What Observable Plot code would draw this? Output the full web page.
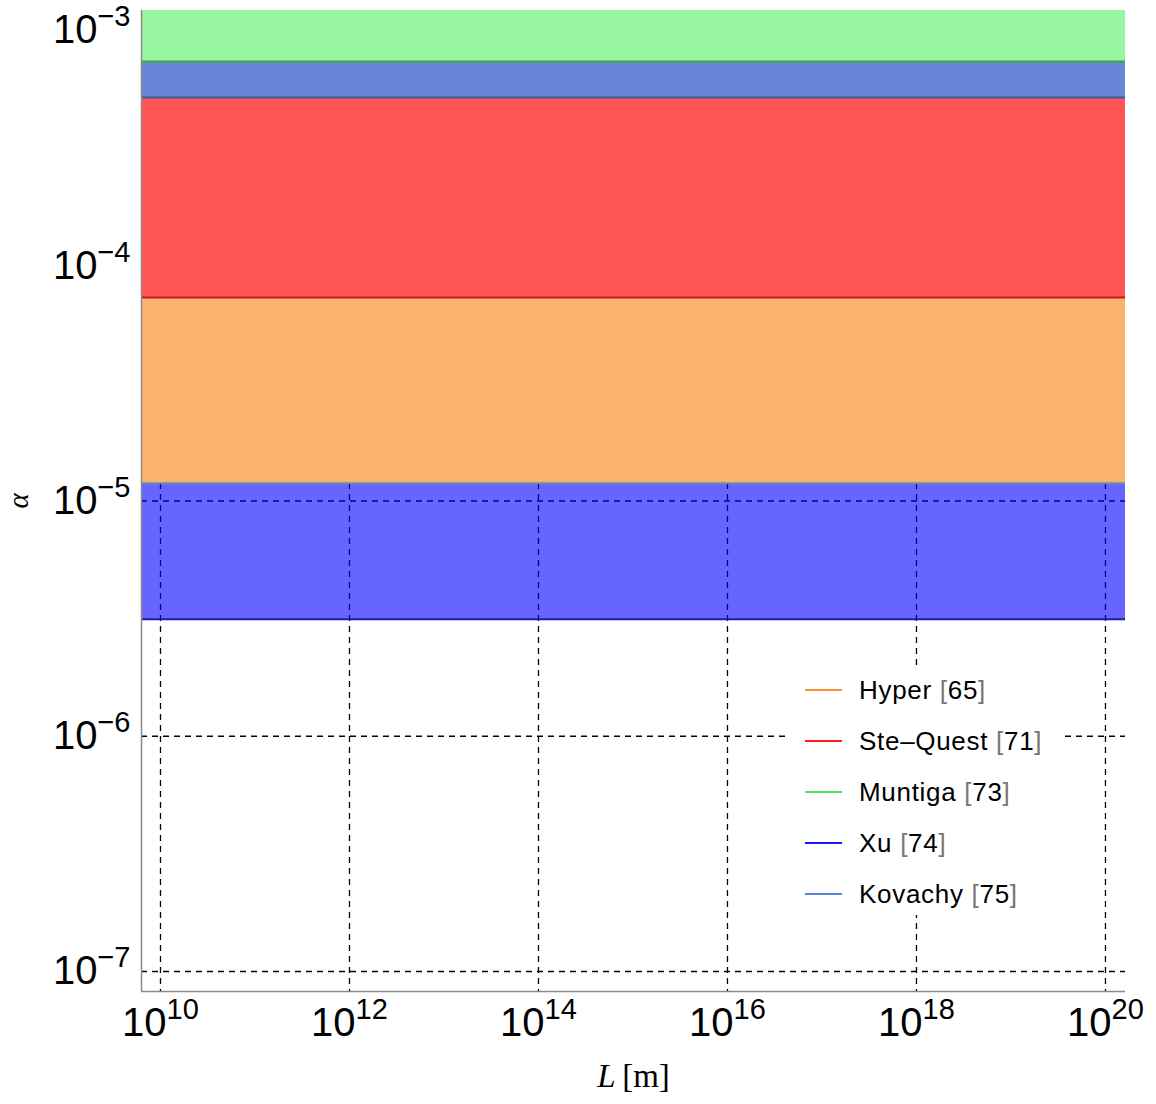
<!DOCTYPE html>
<html><head><meta charset="utf-8">
<script src="https://cdn.jsdelivr.net/npm/d3@7"></script>
<script src="https://cdn.jsdelivr.net/npm/@observablehq/plot@0.6"></script>
<style>
body{margin:0;background:#fff;}
#wrap{position:relative;width:1156px;height:1104px;font-family:"Liberation Sans",Arial,sans-serif;}
#legend{position:absolute;left:790px;top:668px;width:272px;height:247px;background:#fff;}
.row{position:absolute;left:15px;height:30px;display:flex;align-items:center;font-size:26px;letter-spacing:0.7px;color:#000;white-space:nowrap;}
.sw{width:37px;height:2px;margin-right:17px;}
.br{color:#777;}
g[aria-label="x-axis label"] text{font-family:"Liberation Serif","DejaVu Serif",serif;font-size:33px;}
g[aria-label="y-axis label"] text{font-family:"Liberation Serif","DejaVu Serif",serif;font-style:italic;font-size:29px;}
</style></head><body><div id="wrap"></div>
<script>
// ---- data ----
const bandNames = ["Xu [74]", "Hyper [65]", "Ste-Quest [71]", "Kovachy [75]", "Muntiga [73]"];
const bandLower = [3.14e-6, 1.19e-5, 7.33e-5, 5.19e-4, 7.38e-4];
const bandFill  = ["#0000ff", "#fbb36d", "#ff5555", "#6886d8", "#98f5a0"];
const bandFillOpacity = [0.6, 1, 1, 1, 1];
const bandEdge  = ["#1a1aa8", "#6e8c9c", "#c01c1c", "#3d5a9a", "#3fa84a"];
const legendNames  = ["Hyper", "Ste\u2013Quest", "Muntiga", "Xu", "Kovachy"];
const legendRefs   = ["65", "71", "73", "74", "75"];
const legendColors = ["#ff9030", "#ff2020", "#50e060", "#1a1aff", "#5b84d6"];
const xTicks = [1e10, 1e12, 1e14, 1e16, 1e18, 1e20];
const yTicks = [1e-7, 1e-6, 1e-5, 1e-4, 1e-3];
const xDomain = [Math.pow(10, 9.799), Math.pow(10, 20.212)];
const yDomain = [Math.pow(10, -7.085), Math.pow(10, -2.915)];

const bands = bandNames.map((name, i) => ({
  name,
  lo: bandLower[i],
  hi: i < bandNames.length - 1 ? bandLower[i + 1] : yDomain[1],
  fill: bandFill[i],
  op: bandFillOpacity[i],
  edge: bandEdge[i]
}));
const translucent = bands.filter(d => d.op < 1);
const opaque = bands.filter(d => d.op === 1);

const fmt = d => "10^" + Math.round(Math.log10(d));

const chart = Plot.plot({
  width: 1156,
  height: 1104,
  marginLeft: 141,
  marginRight: 31,
  marginTop: 10,
  marginBottom: 113,
  style: {fontFamily: "'Liberation Sans', Arial, sans-serif", fontSize: "40px", color: "#000", background: "#fff"},
  x: {type: "log", domain: xDomain},
  y: {type: "log", domain: yDomain},
  color: {type: "identity"},
  marks: [
    Plot.gridX(xTicks, {stroke: "#000", strokeOpacity: 1, strokeWidth: 1.3, strokeDasharray: "6,5"}),
    Plot.gridY(yTicks, {stroke: "#000", strokeOpacity: 1, strokeWidth: 1.3, strokeDasharray: "6,5"}),
    Plot.rect(translucent, {x1: () => xDomain[0], x2: () => xDomain[1], y1: "lo", y2: "hi", fill: "fill", fillOpacity: 0.6}),
    Plot.rect(opaque, {x1: () => xDomain[0], x2: () => xDomain[1], y1: "lo", y2: "hi", fill: "fill"}),
    Plot.ruleY(bands, {y: "lo", stroke: "edge", strokeWidth: 2}),
    Plot.ruleX([xDomain[0]], {stroke: "#8a8a8a", strokeWidth: 1.5}),
    Plot.ruleY([yDomain[0]], {stroke: "#8a8a8a", strokeWidth: 1.5}),
    Plot.axisX(xTicks, {tickFormat: fmt, tickSize: 0, tickPadding: 16, label: "L [m]", labelAnchor: "center", labelOffset: 95, labelArrow: "none"}),
    Plot.axisY(yTicks, {tickFormat: fmt, tickSize: 0, tickPadding: 11, label: "α", labelAnchor: "center", labelOffset: 134, labelArrow: "none"})
  ]
});

// superscript exponents in tick labels
d3.select(chart).selectAll('g[aria-label="x-axis tick label"] text, g[aria-label="y-axis tick label"] text').each(function() {
  const t = this.textContent;
  const m = t.match(/^10\^(-?\d+)$/);
  if (!m) return;
  const e = m[1].replace("-", "\u2212");
  const sel = d3.select(this);
  sel.text(null);
  sel.append("tspan").text("10");
  sel.append("tspan").attr("dy", -17).attr("font-size", 29).text(e);
});
// x label with italic L
d3.select(chart).selectAll('g[aria-label="x-axis label"] text').each(function() {
  const sel = d3.select(this);
  sel.text(null);
  sel.append("tspan").attr("font-style", "italic").text("L");
  sel.append("tspan").text("\u2009[m]");
});

const wrap = document.getElementById("wrap");
wrap.appendChild(chart);

// legend
const legend = document.createElement("div");
legend.id = "legend";
legendNames.forEach((n, i) => {
  const row = document.createElement("div");
  row.className = "row";
  row.style.top = (22 + 51 * i - 15) + "px";
  row.innerHTML = `<span class="sw" style="background:${legendColors[i]}"></span><span>${n}&nbsp;<span class="br">[</span>${legendRefs[i]}<span class="br">]</span></span>`;
  legend.appendChild(row);
});
wrap.appendChild(legend);
</script></body></html>
